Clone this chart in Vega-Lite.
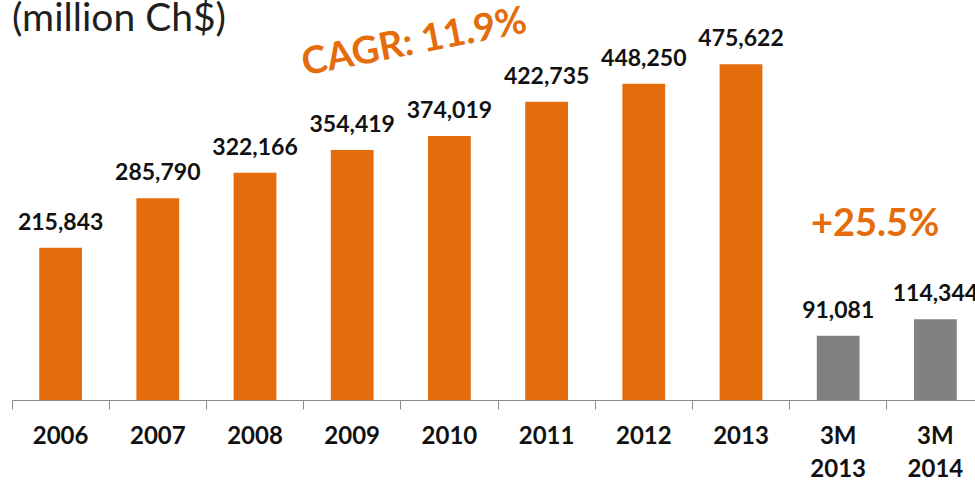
{
  "$schema": "https://vega.github.io/schema/vega-lite/v6.json",
  "width": 972,
  "height": 360,
  "autosize": {"type": "none"},
  "padding": {"left": 12, "top": 40, "right": 0, "bottom": 80},
  "background": "white",
  "title": {
    "text": "(million Ch$)",
    "anchor": "start",
    "frame": "group",
    "font": "Lato",
    "fontSize": 39,
    "fontWeight": "normal",
    "color": "#1f1f1f",
    "baseline": "alphabetic",
    "offset": 0,
    "dy": 67
  },
  "datasets": {
    "bars": [
      {"cat": "2006", "value": 215843, "period": "annual"},
      {"cat": "2007", "value": 285790, "period": "annual"},
      {"cat": "2008", "value": 322166, "period": "annual"},
      {"cat": "2009", "value": 354419, "period": "annual"},
      {"cat": "2010", "value": 374019, "period": "annual"},
      {"cat": "2011", "value": 422735, "period": "annual"},
      {"cat": "2012", "value": 448250, "period": "annual"},
      {"cat": "2013", "value": 475622, "period": "annual"},
      {"cat": "3M 2013", "value": 91081, "period": "quarter"},
      {"cat": "3M 2014", "value": 114344, "period": "quarter"}
    ],
    "notes": [
      {"label": "CAGR: 11.9%", "cat": "2010", "value": 505880, "kind": "cagr"},
      {"label": "+25.5%", "cat": "3M 2013", "value": 247985, "kind": "growth"}
    ]
  },
  "layer": [
    {
      "data": {"name": "bars"},
      "mark": {"type": "bar", "width": {"band": 0.44}},
      "encoding": {
        "x": {
          "field": "cat",
          "type": "nominal",
          "sort": null,
          "scale": {
            "domain": ["2006", "2007", "2008", "2009", "2010", "2011", "2012", "2013", "3M 2013", "3M 2014"],
            "paddingInner": 0,
            "paddingOuter": 0
          },
          "axis": {
            "title": null,
            "labelAngle": 0,
            "labelFont": "Lato",
            "labelFontSize": 24,
            "labelFontWeight": "bold",
            "labelColor": "#111111",
            "labelBaseline": "alphabetic",
            "labelPadding": 34,
            "labelLineHeight": 33,
            "labelExpr": "split(datum.label, ' ')",
            "tickSize": 9,
            "tickColor": "#8c8c8c",
            "domainColor": "#8c8c8c",
            "bandPosition": 0,
            "grid": false
          }
        },
        "y": {
          "field": "value",
          "type": "quantitative",
          "scale": {"domain": [0, 510132], "nice": false, "zero": true},
          "axis": null
        },
        "color": {
          "field": "period",
          "type": "nominal",
          "scale": {"domain": ["annual", "quarter"], "range": ["#E46C0A", "#808080"]},
          "legend": null
        }
      }
    },
    {
      "data": {"name": "bars"},
      "mark": {
        "type": "text",
        "font": "Lato",
        "fontSize": 23,
        "fontWeight": "bold",
        "baseline": "alphabetic",
        "dy": -18,
        "color": "#111111"
      },
      "encoding": {
        "x": {"field": "cat", "type": "nominal", "sort": null},
        "y": {"field": "value", "type": "quantitative"},
        "text": {"field": "value", "type": "quantitative", "format": ","}
      }
    },
    {
      "data": {"name": "notes"},
      "transform": [{"filter": "datum.kind === 'cagr'"}],
      "mark": {
        "type": "text",
        "font": "Lato",
        "fontSize": 38,
        "fontWeight": "bold",
        "baseline": "middle",
        "align": "center",
        "angle": -11,
        "color": "#E46C0A"
      },
      "encoding": {
        "x": {"field": "cat", "type": "nominal", "sort": null, "bandPosition": 0.14},
        "y": {"field": "value", "type": "quantitative"},
        "text": {"field": "label"}
      }
    },
    {
      "data": {"name": "notes"},
      "transform": [{"filter": "datum.kind === 'growth'"}],
      "mark": {
        "type": "text",
        "font": "Lato",
        "fontSize": 38,
        "fontWeight": "bold",
        "baseline": "middle",
        "align": "center",
        "color": "#E46C0A"
      },
      "encoding": {
        "x": {"field": "cat", "type": "nominal", "sort": null, "bandPosition": 0.88},
        "y": {"field": "value", "type": "quantitative"},
        "text": {"field": "label"}
      }
    }
  ],
  "config": {"view": {"stroke": null}}
}
